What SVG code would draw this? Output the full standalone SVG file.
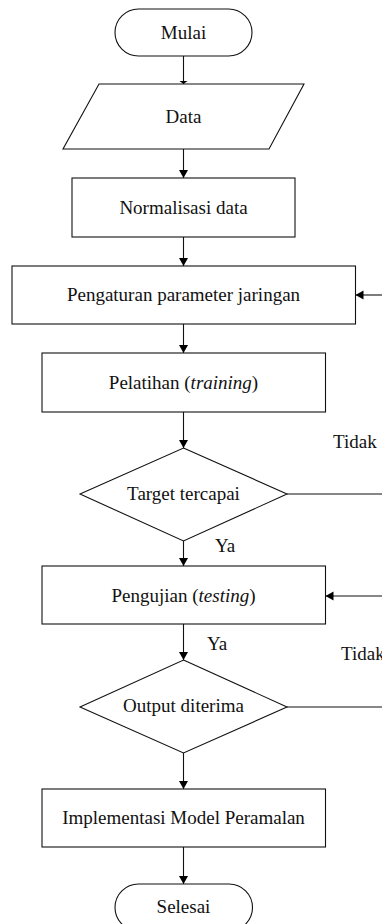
<svg xmlns="http://www.w3.org/2000/svg" width="382" height="924" viewBox="0 0 382 924">
<defs>
<marker id="ah" markerWidth="8" markerHeight="10" refX="8" refY="4.5" orient="auto" markerUnits="userSpaceOnUse">
<path d="M0,0 L8,4.5 L0,9 Z" fill="#000"/>
</marker>
<style>
.s{fill:#fff;stroke:#111;stroke-width:1.1}
.t{font-family:"Liberation Serif","Times New Roman",serif;font-size:19px;fill:#111;text-anchor:middle}
.l{font-family:"Liberation Serif","Times New Roman",serif;font-size:19px;fill:#111}
.c{fill:none;stroke:#111;stroke-width:1.1}
</style>
</defs>
<rect width="382" height="924" fill="#fff"/>
<g id="connectors">
<line class="c" x1="183.5" y1="56" x2="183.5" y2="84"/>
<path d="M179.5,81 L187.5,81 L183.5,84 Z" fill="#000"/>
<line class="c" x1="183.5" y1="149" x2="183.5" y2="178" marker-end="url(#ah)"/>
<line class="c" x1="183.5" y1="237" x2="183.5" y2="266" marker-end="url(#ah)"/>
<line class="c" x1="183.5" y1="324" x2="183.5" y2="353" marker-end="url(#ah)"/>
<line class="c" x1="183.5" y1="412" x2="183.5" y2="448" marker-end="url(#ah)"/>
<line class="c" x1="183.5" y1="541" x2="183.5" y2="566" marker-end="url(#ah)"/>
<line class="c" x1="183.5" y1="624" x2="183.5" y2="660" marker-end="url(#ah)"/>
<line class="c" x1="183.5" y1="753" x2="183.5" y2="789" marker-end="url(#ah)"/>
<line class="c" x1="183.5" y1="847" x2="183.5" y2="884" marker-end="url(#ah)"/>
<line class="c" x1="287" y1="494" x2="382" y2="494"/>
<line class="c" x1="287" y1="707" x2="382" y2="707"/>
<line class="c" x1="382" y1="295" x2="355.5" y2="295" marker-end="url(#ah)"/>
<line class="c" x1="382" y1="596" x2="325.5" y2="596" marker-end="url(#ah)"/>
<text class="l" x="333" y="447.5">Tidak</text>
<text class="l" x="215" y="551.5">Ya</text>
<text class="l" x="207" y="650">Ya</text>
<text class="l" x="341" y="659.5">Tidak</text>
</g>
<g id="mulai">
<rect class="s" x="115" y="9" width="137" height="47" rx="23.5"/>
<text class="t" x="183.5" y="38.5">Mulai</text>
</g>
<g id="data">
<polygon class="s" points="99,84 304,84 269,149 63,149"/>
<text class="t" x="183.5" y="123">Data</text>
</g>
<g id="normalisasi">
<rect class="s" x="72" y="178" width="223" height="59"/>
<text class="t" x="183.5" y="213.5">Normalisasi data</text>
</g>
<g id="pengaturan">
<rect class="s" x="12" y="266" width="343.5" height="58"/>
<text class="t" x="183.5" y="301">Pengaturan parameter jaringan</text>
</g>
<g id="pelatihan">
<rect class="s" x="42" y="353" width="283.5" height="59"/>
<text class="t" x="183.5" y="389">Pelatihan (<tspan font-style="italic">training</tspan>)</text>
</g>
<g id="target">
<polygon class="s" points="183.5,448 287,494 183.5,541 80,494"/>
<text class="t" x="183.5" y="499.5">Target tercapai</text>
</g>
<g id="pengujian">
<rect class="s" x="42" y="566" width="283.5" height="58"/>
<text class="t" x="183.5" y="602">Pengujian (<tspan font-style="italic">testing</tspan>)</text>
</g>
<g id="output">
<polygon class="s" points="183.5,660 287,707 183.5,753 80,707"/>
<text class="t" x="183.5" y="712">Output diterima</text>
</g>
<g id="implementasi">
<rect class="s" x="42" y="789" width="283.5" height="58"/>
<text class="t" x="183.5" y="824">Implementasi Model Peramalan</text>
</g>
<g id="selesai">
<rect class="s" x="115" y="884" width="137.5" height="47" rx="23.5"/>
<text class="t" x="183.5" y="913">Selesai</text>
</g>
</svg>
